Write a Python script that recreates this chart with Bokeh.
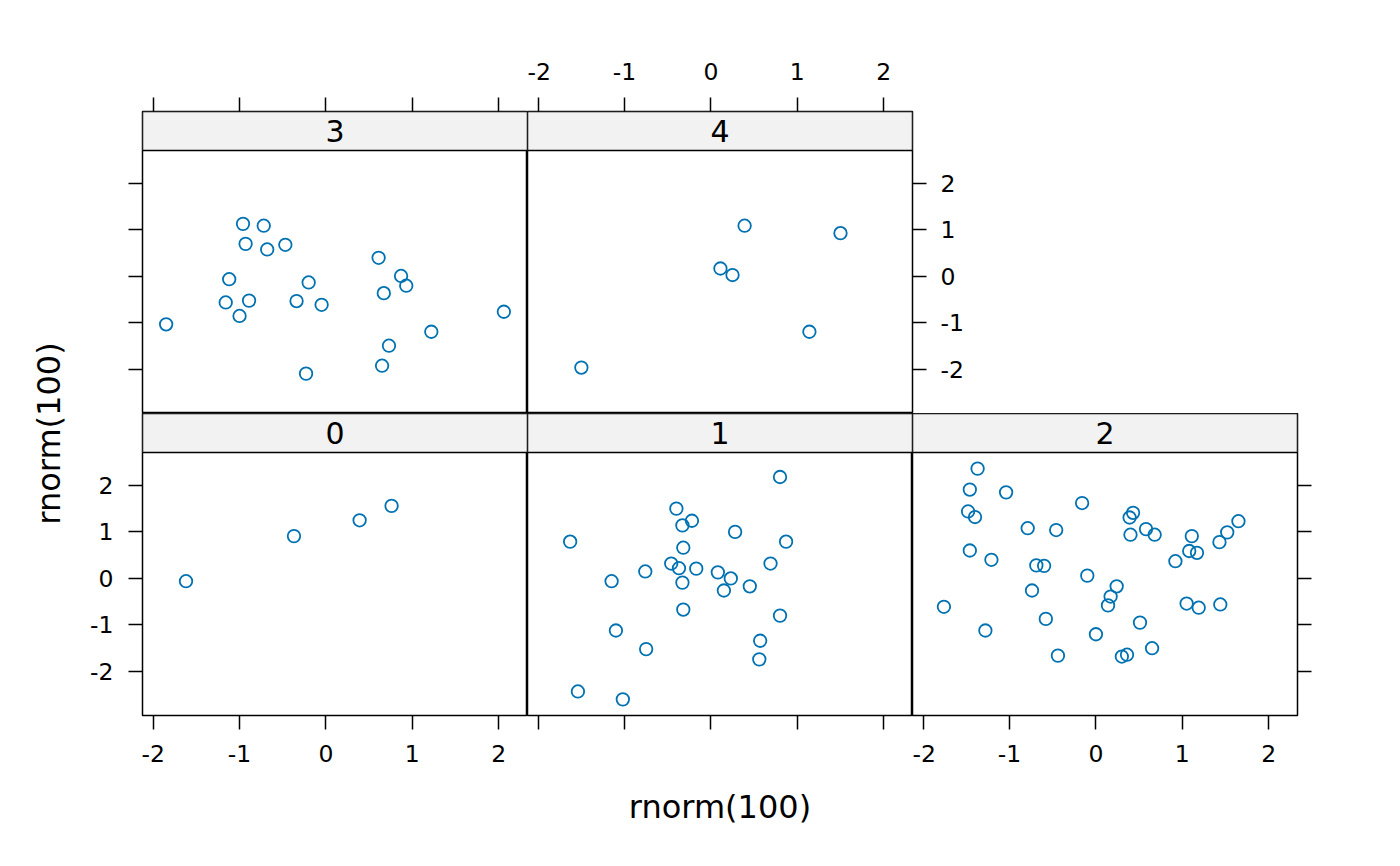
import math
from bokeh.plotting import figure
from bokeh.models import Range1d, LinearAxis, FixedTicker, Label, CustomJSTickFormatter
from bokeh.layouts import row, column
from bokeh.embed import file_html
from bokeh.resources import INLINE
from bokeh.core.properties import value

# ---- data ----
panel_names = ["0", "1", "2", "3", "4"]

x0 = [-1.62, -0.37, 0.39, 0.76]
y0 = [-0.06, 0.91, 1.25, 1.56]

x1 = [0.80, -0.40, -0.22, -0.33, 0.28, -1.63, 0.87, -0.32, 0.69, -0.46, -0.37, -0.17, -0.76, 0.08,
      0.23, -1.15, -0.33, 0.45, 0.15, -0.32, 0.80, -1.10, 0.57, -0.75, 0.56, -1.54, -1.02]
y1 = [2.18, 1.50, 1.24, 1.14, 1.00, 0.79, 0.79, 0.66, 0.32, 0.32, 0.22, 0.21, 0.15, 0.13,
      0.00, -0.06, -0.09, -0.17, -0.26, -0.67, -0.80, -1.12, -1.34, -1.52, -1.74, -2.43, -2.60]

x2 = [-1.37, -1.46, -1.04, -0.16, -1.48, -1.40, 0.43, 0.39, 1.65, -0.79, -0.46, 0.58, 0.40, 0.68,
      1.11, 1.52, 1.43, -1.46, 1.08, 1.17, -1.21, 0.92, -0.69, -0.60, -0.10, 0.24, -0.74, 0.17,
      0.14, -1.76, 1.05, 1.19, 1.44, -0.58, 0.51, -1.28, 0.00, 0.65, -0.44, 0.30, 0.36]
y2 = [2.36, 1.91, 1.85, 1.62, 1.44, 1.32, 1.41, 1.31, 1.23, 1.08, 1.04, 1.06, 0.94, 0.94,
      0.91, 0.99, 0.78, 0.60, 0.59, 0.55, 0.40, 0.37, 0.28, 0.27, 0.06, -0.17, -0.26, -0.39,
      -0.58, -0.61, -0.54, -0.63, -0.56, -0.87, -0.95, -1.12, -1.20, -1.50, -1.66, -1.68, -1.64]

x3 = [-1.85, -0.96, -0.72, -0.93, -0.68, -0.47, -1.12, -1.16, -0.89, -1.00, -0.34, -0.20, -0.05,
      -0.23, 0.61, 0.87, 0.93, 0.67, 1.22, 0.73, 0.65, 2.06]
y3 = [-1.03, 1.13, 1.09, 0.70, 0.58, 0.68, -0.06, -0.56, -0.52, -0.85, -0.53, -0.13, -0.61,
      -2.09, 0.40, 0.01, -0.20, -0.36, -1.19, -1.49, -1.92, -0.76]

x4 = [-1.50, 0.11, 0.25, 0.39, 1.50, 1.14]
y4 = [-1.96, 0.17, 0.03, 1.09, 0.93, -1.19]

tick_values = [-2, -1, 0, 1, 2]
x_label = "rnorm(100)"
y_label = "rnorm(100)"

# ---- shared limits (lattice style: data range extended by 7%) ----
all_x = x0 + x1 + x2 + x3 + x4
all_y = y0 + y1 + y2 + y3 + y4
PAD = 0.07
xlo = min(all_x) - PAD * (max(all_x) - min(all_x))
xhi = max(all_x) + PAD * (max(all_x) - min(all_x))
ylo = min(all_y) - PAD * (max(all_y) - min(all_y))
yhi = max(all_y) + PAD * (max(all_y) - min(all_y))

PANEL_W = 385
PANEL_H = 263
STRIP_H = 39
y_top = yhi + (yhi - ylo) * STRIP_H / PANEL_H

FONT = "DejaVu Sans"
TICK_FS = "23.5px"
STRIP_FS = "30px"
LAB_FS = "32px"
PT_COLOR = "#0072B2"

TOP_BORDER = 111
BOTTOM_BORDER = 130
LEFT_BORDER = 64
RIGHT_BORDER = 70
YL_W = 78


def make_axis(labels, standoff):
    ax = LinearAxis(ticker=FixedTicker(ticks=tick_values, minor_ticks=[]),
                    formatter=CustomJSTickFormatter(code="return tick.toString()"))
    ax.axis_line_color = None
    ax.major_tick_out = 14
    ax.major_tick_in = 0
    ax.minor_tick_out = 0
    ax.minor_tick_in = 0
    ax.major_tick_line_color = "black"
    ax.major_tick_line_width = 1.5
    ax.major_label_text_font = FONT
    ax.major_label_standoff = standoff
    if labels:
        ax.major_label_text_font_size = TICK_FS
        ax.major_label_text_color = "black"
    else:
        ax.major_label_text_font_size = "0px"
        ax.major_label_text_color = None
    return ax


def make_panel(name, xs, ys, left=None, right=None, above=None, below=None,
               mb_left=0, mb_right=0, mb_top=0, mb_bottom=0):
    p = figure(frame_width=PANEL_W, frame_height=PANEL_H + STRIP_H,
               x_range=Range1d(xlo, xhi), y_range=Range1d(ylo, y_top),
               x_axis_type=None, y_axis_type=None,
               output_backend="svg", toolbar_location=None,
               min_border_left=mb_left, min_border_right=mb_right,
               min_border_top=mb_top, min_border_bottom=mb_bottom)
    p.background_fill_color = "white"
    p.border_fill_color = "white"
    p.outline_line_color = "black"
    p.outline_line_width = 1.5
    # strip
    p.quad(left=xlo, right=xhi, bottom=yhi, top=y_top,
           fill_color="#f2f2f2", line_color="black", line_width=1.5)
    p.text(x=[(xlo + xhi) / 2], y=[(yhi + y_top) / 2], text=[name],
           text_align="center", text_baseline="middle",
           text_font=value(FONT), text_font_size=STRIP_FS, text_color="black")
    # points
    p.scatter(xs, ys, marker="circle", size=12.5, fill_color=None,
              line_color=PT_COLOR, line_width=1.8)
    if left is not None:
        p.add_layout(make_axis(left, 15), "left")
    if right is not None:
        p.add_layout(make_axis(right, 14), "right")
    if above is not None:
        p.add_layout(make_axis(above, 18), "above")
    if below is not None:
        p.add_layout(make_axis(below, 15), "below")
    return p


f3 = make_panel(panel_names[3], x3, y3, left=False, above=False,
                mb_left=LEFT_BORDER, mb_top=TOP_BORDER)
f4 = make_panel(panel_names[4], x4, y4, right=True, above=True,
                mb_right=RIGHT_BORDER, mb_top=TOP_BORDER)
f0 = make_panel(panel_names[0], x0, y0, left=True, below=True,
                mb_left=LEFT_BORDER, mb_bottom=BOTTOM_BORDER)
f1 = make_panel(panel_names[1], x1, y1, below=False, mb_bottom=BOTTOM_BORDER)
f2 = make_panel(panel_names[2], x2, y2, right=False, below=True,
                mb_right=RIGHT_BORDER, mb_bottom=BOTTOM_BORDER)

# x label on the middle column's bottom axis
xb = f1.below[0]
xb.axis_label = x_label
xb.axis_label_text_font = FONT
xb.axis_label_text_font_size = LAB_FS
xb.axis_label_text_font_style = "normal"
xb.axis_label_text_color = "black"
xb.axis_label_standoff = 58

# y label in its own narrow canvas
TOTAL_H = TOP_BORDER + PANEL_H + STRIP_H + PANEL_H + STRIP_H + BOTTOM_BORDER
yl = figure(width=YL_W, height=TOTAL_H, x_range=Range1d(0, YL_W), y_range=Range1d(TOTAL_H, 0),
            x_axis_type=None, y_axis_type=None, output_backend="svg",
            toolbar_location=None, min_border=0)
yl.outline_line_color = None
yl.background_fill_color = "white"
yl.border_fill_color = "white"
yl.add_layout(Label(x=48, y=433, text=y_label, angle=math.pi / 2,
                    text_align="center", text_baseline="middle",
                    text_font=FONT, text_font_size=LAB_FS, text_color="black"))

layout = row(yl, column(row(f3, f4), row(f0, f1, f2)))

open("out.html", "w").write(file_html(layout, INLINE))
